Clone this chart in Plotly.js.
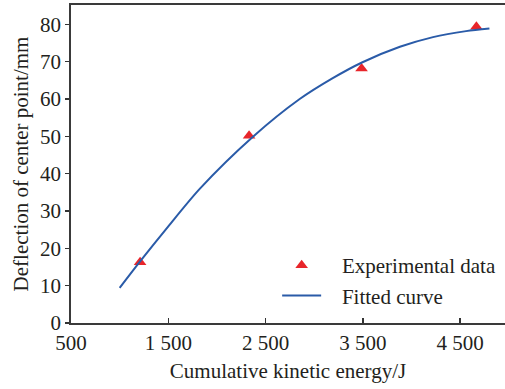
<!DOCTYPE html>
<html>
<head>
<meta charset="utf-8">
<script src="https://cdn.plot.ly/plotly-3.0.1.min.js"></script>
<style>
html,body{margin:0;padding:0;background:#fff;}
#chart{width:505px;height:389px;}
</style>
</head>
<body>
<div id="chart"></div>
<script>
// Experimental data
var expEnergy = [1210, 2330, 3486, 4666];
var expDeflection = [16.3, 50.2, 68.2, 79.4];

// Fitted curve
var fitEnergy = [1000, 1210, 1500, 1825, 2370, 2850, 3190, 3490, 3880, 4220, 4560, 4800];
var fitDeflection = [9.4, 16.5, 25.9, 36.0, 49.9, 60.0, 65.6, 69.8, 74.0, 76.6, 78.2, 78.9];

// Tick labels
var xTickVals = [500, 1500, 2500, 3500, 4500];
var xTickText = ['500', '1 500', '2 500', '3 500', '4 500'];
var yTickVals = [0, 10, 20, 30, 40, 50, 60, 70, 80];

var FONT = 'Liberation Serif, Times New Roman, serif';
var TXT = '#231f20';
var PAD = '\u00a0\u00a0\u00a0';

var traces = [
  {
    x: expEnergy, y: expDeflection,
    type: 'scatter', mode: 'markers',
    name: PAD + 'Experimental data',
    marker: {symbol: 'triangle-up', size: 11, color: '#e8252a'}
  },
  {
    x: fitEnergy, y: fitDeflection,
    type: 'scatter', mode: 'lines',
    name: PAD + 'Fitted curve',
    line: {color: '#2a5ba8', width: 2, shape: 'spline', smoothing: 0.8}
  }
];

var layout = {
  width: 505, height: 389,
  margin: {l: 71, r: 0, t: 5, b: 66},
  paper_bgcolor: '#ffffff', plot_bgcolor: '#ffffff',
  font: {family: FONT, size: 21, color: TXT},
  showlegend: true,
  legend: {
    x: 0.475, y: 0.245, xanchor: 'left', yanchor: 'top',
    bgcolor: 'rgba(0,0,0,0)', borderwidth: 0,
    font: {family: FONT, size: 21, color: TXT},
    itemwidth: 39, tracegroupgap: 0
  },
  xaxis: {
    range: [500, 4960],
    tickmode: 'array', tickvals: xTickVals, ticktext: xTickText,
    ticks: 'inside', ticklen: 5, tickwidth: 1.5, tickcolor: '#333',
    showline: true, linecolor: '#3a3a3a', linewidth: 1.8, mirror: true,
    showgrid: false, zeroline: false,
    ticklabelstandoff: 0,
    tickfont: {family: FONT, size: 21, color: TXT},
    title: {text: 'Cumulative kinetic energy/J', font: {family: FONT, size: 21, color: TXT}, standoff: 9}
  },
  yaxis: {
    range: [0, 85.2],
    tickmode: 'array', tickvals: yTickVals,
    ticks: 'outside', ticklen: 4, tickwidth: 1.5, tickcolor: '#333',
    showline: true, linecolor: '#3a3a3a', linewidth: 1.8, mirror: true,
    showgrid: false, zeroline: false,
    tickfont: {family: FONT, size: 21, color: TXT},
    title: {text: 'Deflection of center point/mm', font: {family: FONT, size: 21, color: TXT}, standoff: 6}
  }
};

Plotly.newPlot('chart', traces, layout, {displayModeBar: false, staticPlot: true});
</script>
</body>
</html>
